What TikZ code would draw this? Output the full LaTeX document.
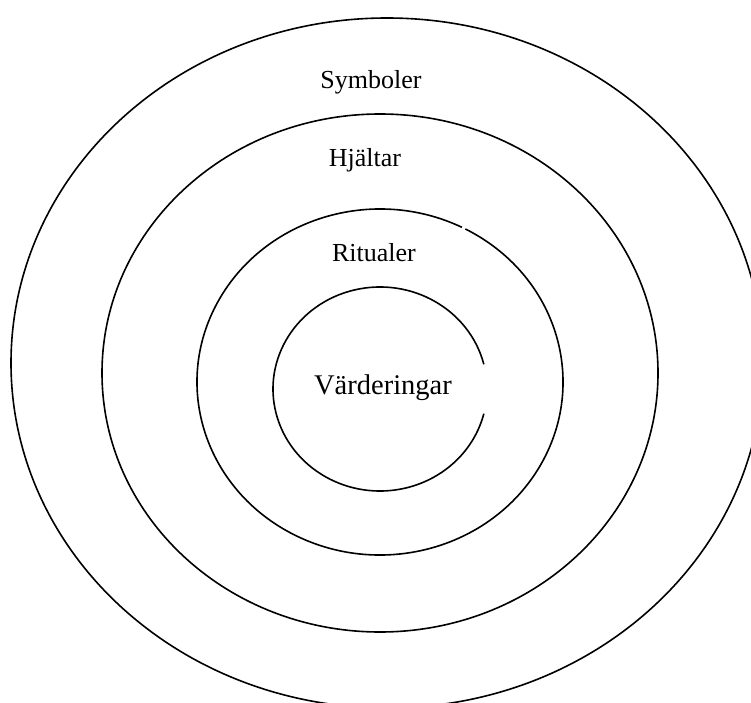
\documentclass[tikz,border=0pt]{standalone}
\usepackage{fontspec}
\setmainfont{Liberation Serif}
\begin{document}
\begin{tikzpicture}[x=1pt,y=1pt,
  ring/.style={line width=1.6pt, black},
  lbl/.style={font=\fontsize{26}{30}\selectfont, inner sep=0pt}]
\useasboundingbox (0,0) rectangle (751,702);
\clip (0,0) rectangle (751,702);
% outer ellipse (Symboler)
\draw[ring] (387,339) ellipse [x radius=376, y radius=345];
% Hjältar
\draw[ring] (380,329) ellipse [x radius=278, y radius=259];
% Ritualer (small gap near top right)
\draw[ring] (380,320) ++(62.2:183 and 173) arc[start angle=62.2, end angle=-296.6, x radius=183, y radius=173];
% Värderingar (gap on the right)
\draw[ring] (380,313) ++(14:107 and 102) arc[start angle=14, end angle=346, x radius=107, y radius=102];
\node[lbl] (sym) at (371,620) {Symboler};
\node[lbl] (hja) at (365,542) {Hjältar};
\node[lbl] (rit) at (374,449) {Ritualer};
\node[lbl, font=\fontsize{28.5}{32}\selectfont] (var) at (383,314) {Värderingar};
\end{tikzpicture}
\end{document}
